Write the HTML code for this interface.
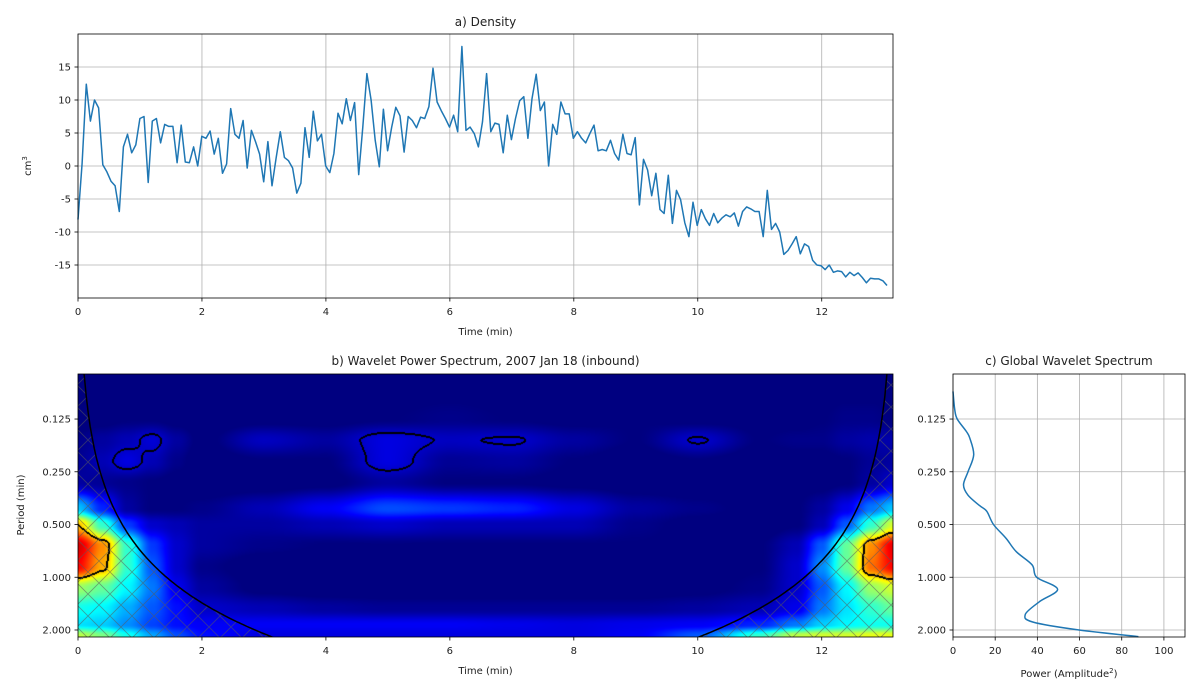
<!DOCTYPE html>
<html><head><meta charset="utf-8">
<style>
html,body{margin:0;padding:0;background:#fff;}
#wrap{position:relative;width:1200px;height:700px;overflow:hidden;font-family:"DejaVu Sans","Liberation Sans",sans-serif;}
svg text{font-family:"DejaVu Sans","Liberation Sans",sans-serif;fill:#222;}
canvas{position:absolute;left:78px;top:374px;}
svg{position:absolute;left:0;top:0;}
</style></head>
<body>
<div id="wrap">
<canvas id="hm" width="815" height="263"></canvas>
<svg id="svg" width="1200" height="700"></svg>
</div>
<script>
// ---- data: density series ----
const densityValues = [-8.1,0.4,12.4,6.8,10,8.8,0.2,-0.9,-2.3,-3,-6.9,2.9,4.8,2,3.2,7.2,7.5,-2.5,6.8,7.2,3.5,6.3,6,6,0.5,6.2,0.6,0.5,2.9,0,4.5,4.2,5.3,1.8,4.2,-1.1,0.3,8.7,4.8,4.2,6.9,-0.3,5.4,3.7,1.8,-2.4,3.7,-3,1.2,5.2,1.3,0.8,-0.3,-4.1,-2.6,5.8,1.3,8.3,3.8,4.8,0,-1,1.9,8,6.4,10.2,6.9,9.6,-1.3,5.9,14,10,3.9,-0.1,8.6,2.3,5.9,8.9,7.6,2.1,7.5,6.9,5.8,7.4,7.2,9,14.8,9.7,8.4,7.2,5.9,7.7,5.2,18.1,5.4,5.9,4.9,2.9,6.7,14,
5.2,6.5,6.3,2,7.7,4,7.2,9.9,10.5,4.2,10.2,13.9,8.4,9.7,0,6.3,4.8,9.7,7.9,7.9,4.2,5.2,4.2,3.5,4.9,6.2,2.3,2.5,2.3,3.9,1.9,0.9,4.8,1.9,1.7,4.3,-5.9,1,-0.6,-4.5,-1.1,-6.6,-7.2,-1.4,-8.7,-3.7,-5.1,-8.6,-10.7,-5.5,-9,-6.6,-8,-9,-7.2,-8.6,-7.9,-7.4,-7.7,-7.1,-9.1,-6.9,-6.2,-6.5,-6.9,-6.9,-10.7,-3.7,-9.6,-8.7,-10,-13.4,-12.8,-11.8,-10.7,-13.3,-11.8,-12.2,-14.3,-15,-15.1,-15.7,-15,-16.1,-15.9,-16,-16.8,-16.1,-16.6,-16.2,-16.9,-17.7,-17,-17.1,-17.1,-17.4,-18.1];
const sampleInterval = 0.0666; // minutes
const densityYTicks = [-15,-10,-5,0,5,10,15];
const timeTicks = [0,2,4,6,8,10,12];
// ---- data: wavelet power grid (rows: log2 period, cols: time in minutes) ----
const gridTimes = [0,0.4,0.8,1.2,1.6,2,3,4,5,6,7,8,9,10,11,11.6,12,12.4,12.8,13.15];
const gridLog2Periods = [-4,-3,-2.6,-2.2,-1.8,-1.3,-1,-0.6,-0.2,0.2,0.6,0.9,1.1,1.25];
const powerGrid = [
[0.02,0.02,0.02,0.02,0.02,0.02,0.02,0.02,0.02,0.02,0.02,0.02,0.02,0.02,0.02,0.02,0.02,0.02,0.02,0.02],
[0.03,0.04,0.05,0.05,0.04,0.03,0.04,0.04,0.05,0.06,0.05,0.04,0.05,0.04,0.04,0.04,0.05,0.06,0.06,0.05],
[0.06,0.08,0.10,0.13,0.08,0.04,0.11,0.08,0.14,0.11,0.12,0.08,0.05,0.12,0.05,0.06,0.06,0.08,0.09,0.09],
[0.07,0.10,0.14,0.10,0.06,0.03,0.05,0.05,0.14,0.07,0.08,0.05,0.03,0.05,0.03,0.04,0.04,0.05,0.07,0.08],
[0.08,0.07,0.06,0.05,0.04,0.03,0.03,0.04,0.08,0.05,0.05,0.04,0.03,0.03,0.03,0.04,0.04,0.05,0.08,0.12],
[0.35,0.20,0.08,0.05,0.05,0.06,0.10,0.16,0.24,0.22,0.20,0.14,0.08,0.06,0.04,0.05,0.08,0.15,0.28,0.35],
[0.70,0.45,0.22,0.12,0.10,0.08,0.08,0.10,0.12,0.10,0.10,0.10,0.06,0.04,0.03,0.05,0.10,0.25,0.45,0.60],
[0.92,0.75,0.45,0.22,0.12,0.08,0.06,0.05,0.05,0.05,0.05,0.05,0.05,0.04,0.05,0.10,0.25,0.50,0.75,0.90],
[0.88,0.72,0.45,0.25,0.12,0.06,0.03,0.02,0.02,0.02,0.02,0.02,0.02,0.02,0.05,0.12,0.30,0.50,0.78,0.88],
[0.55,0.50,0.40,0.28,0.15,0.08,0.04,0.03,0.03,0.03,0.03,0.03,0.03,0.04,0.06,0.12,0.25,0.40,0.55,0.60],
[0.42,0.40,0.33,0.25,0.18,0.12,0.10,0.08,0.07,0.07,0.07,0.07,0.07,0.08,0.10,0.15,0.28,0.38,0.45,0.50],
[0.38,0.36,0.30,0.23,0.18,0.16,0.16,0.16,0.16,0.16,0.15,0.14,0.15,0.16,0.20,0.28,0.36,0.40,0.42,0.42],
[0.58,0.52,0.42,0.32,0.24,0.18,0.14,0.14,0.14,0.14,0.14,0.14,0.16,0.25,0.45,0.58,0.60,0.60,0.62,0.62],
[0.65,0.62,0.52,0.40,0.30,0.22,0.15,0.14,0.14,0.14,0.15,0.16,0.20,0.35,0.60,0.72,0.75,0.75,0.75,0.75]];
const colorMin = 0.05;
const periodTicks = [0.125,0.25,0.5,1,2];
const periodTickLabels = ["0.125","0.250","0.500","1.000","2.000"];
const coiFactor = 0.7;
const sigThresholdShort = 0.115, sigThresholdLong = 0.7;
// ---- data: global wavelet spectrum ----
const globalPeriods = [0.087,0.11,0.125,0.147,0.16,0.2,0.25,0.297,0.34,0.39,0.42,0.5,0.6,0.715,0.85,1,1.17,1.38,1.63,1.8,2,2.18];
const globalPower = [0,0.8,2,6.3,7.9,9.8,7.1,5,7.1,12.6,16,19.2,25.2,30,37.5,39.7,49.6,40.9,34.3,37.8,59.8,87.9];
const powerTicks = [0,20,40,60,80,100];

const NS='http://www.w3.org/2000/svg';
const svg=document.getElementById('svg');
function el(tag,attrs,parent){const e=document.createElementNS(NS,tag);for(const k in attrs)e.setAttribute(k,attrs[k]);(parent||svg).appendChild(e);return e;}
function txt(x,y,s,opt,parent){const t=el('text',Object.assign({x:x,y:y,'font-size':10,'text-anchor':'middle'},opt||{}),parent);t.textContent=s;return t;}

const T_MAX=13.15;
// ---- panel a ----
const A={l:78,r:893,t:34,b:298,ymin:-20,ymax:20};
const ax=t=>A.l+(t/T_MAX)*(A.r-A.l);
const ay=v=>A.b-(v-A.ymin)/(A.ymax-A.ymin)*(A.b-A.t);
const gA=el('g',{});


timeTicks.forEach(t=>{
  const g=el('line',{x1:ax(t),x2:ax(t),y1:A.t,y2:A.b,stroke:'#b0b0b0','stroke-width':0.8},gA);
  
  el('line',{x1:ax(t),x2:ax(t),y1:A.b,y2:A.b+3.5,stroke:'#000','stroke-width':0.8},gA);
  const l=txt(ax(t),A.b+17,String(t),{},gA);
  
});
densityYTicks.forEach(v=>{
  const g=el('line',{x1:A.l,x2:A.r,y1:ay(v),y2:ay(v),stroke:'#b0b0b0','stroke-width':0.8},gA);
  
  el('line',{x1:A.l-3.5,x2:A.l,y1:ay(v),y2:ay(v),stroke:'#000','stroke-width':0.8},gA);
  const l=txt(A.l-7,ay(v)+3.5,String(v),{'text-anchor':'end'},gA);
  
});
const pts=densityValues.map((v,i)=>ax(i*sampleInterval).toFixed(1)+','+ay(v).toFixed(1)).join(' ');
const dl=el('polyline',{points:pts,fill:'none',stroke:'#1f77b4','stroke-width':1.5,'stroke-linejoin':'round'},gA);

el('rect',{x:A.l,y:A.t,width:A.r-A.l,height:A.b-A.t,fill:'none',stroke:'#000','stroke-width':0.8},gA);
let t1=txt((A.l+A.r)/2,A.t-8,'a) Density',{'font-size':12},gA);

let t2=txt((A.l+A.r)/2,A.b+37,'Time (min)',{},gA);

let t3=el('text',{x:0,y:0,'font-size':10,'text-anchor':'middle',transform:'translate(31,166) rotate(-90)'},gA);
t3.innerHTML='cm<tspan baseline-shift="super" font-size="7">3</tspan>';


// ---- panel b ----
const B={l:78,r:893,t:374,b:637};
const LP_TOP=Math.log2(0.125)-45/52.7, LP_BOT=Math.log2(2)+7/52.7;
const bx=t=>B.l+(t/T_MAX)*(B.r-B.l);
const by=p=>B.t+(Math.log2(p)-LP_TOP)/(LP_BOT-LP_TOP)*(B.b-B.t);
function jet(v){v=Math.max(0,Math.min(1,(v-colorMin)/(1-colorMin)));
  const r=Math.max(0,Math.min(1,1.5-Math.abs(4*v-3)));
  const g=Math.max(0,Math.min(1,1.5-Math.abs(4*v-2)));
  const b=Math.max(0,Math.min(1,1.5-Math.abs(4*v-1)));
  return [r*255,g*255,b*255];}
function interp(arr,x){
  if(x<=arr[0])return [0,0];if(x>=arr[arr.length-1])return [arr.length-2,1];
  for(let i=0;i<arr.length-1;i++){if(x<=arr[i+1])return [i,(x-arr[i])/(arr[i+1]-arr[i])];}}
function smooth(f){return f*f*(3-2*f);}
const cv=document.getElementById('hm');const ctx=cv.getContext('2d');
const W=cv.width,H=cv.height;
const field=new Float32Array(W*H);
for(let py=0;py<H;py++){
  const lp=LP_TOP+(py+0.5)/H*(LP_BOT-LP_TOP);
  let [ri,rf]=interp(gridLog2Periods,lp);rf=smooth(rf);
  for(let px=0;px<W;px++){
    const t=(px+0.5)/W*T_MAX;
    let [ci,cf]=interp(gridTimes,t);cf=smooth(cf);
    field[py*W+px]=(powerGrid[ri][ci]*(1-cf)+powerGrid[ri][ci+1]*cf)*(1-rf)+(powerGrid[ri+1][ci]*(1-cf)+powerGrid[ri+1][ci+1]*cf)*rf;
  }
}
const img=ctx.createImageData(W,H);
for(let py=0;py<H;py++){
  const lp=LP_TOP+(py+0.5)/H*(LP_BOT-LP_TOP);
  const thr=lp<-1.95?sigThresholdShort:sigThresholdLong;
  for(let px=0;px<W;px++){
    const v=field[py*W+px];let c=jet(v);
    const s=v>=thr;
    let edge=false;
    if(px+1<W&&((field[py*W+px+1]>=thr)!==s))edge=true;
    if(py+1<H&&((field[(py+1)*W+px]>=thr)!==s))edge=true;
    if(px-1>=0&&((field[py*W+px-1]>=thr)!==s))edge=true;
    if(py-1>=0&&((field[(py-1)*W+px]>=thr)!==s))edge=true;
    if(edge)c=[0,0,0];
    const k=(py*W+px)*4;
    img.data[k]=c[0];img.data[k+1]=c[1];img.data[k+2]=c[2];img.data[k+3]=255;}
}
ctx.putImageData(img,0,0);
const gB=el('g',{});

const defs=el('defs',{});
const pat=el('pattern',{id:'hatch',width:22,height:22,patternUnits:'userSpaceOnUse'},defs);
el('path',{d:'M0,0L22,22M22,0L0,22',stroke:'rgba(90,90,90,0.55)','stroke-width':0.9},pat);
const cp=el('clipPath',{id:'clipB'},defs);
el('rect',{x:B.l,y:B.t,width:B.r-B.l,height:B.b-B.t},cp);
let coiPts=[];
for(let i=0;i<=400;i++){const t=i/400*T_MAX;const p=Math.max(coiFactor*Math.min(t,T_MAX-t),0.01);
  coiPts.push([bx(t),Math.max(B.t-10,Math.min(B.b+10,by(p)))]);}
const coiD='M'+coiPts.map(p=>p[0].toFixed(1)+','+p[1].toFixed(1)).join('L');
const hz=el('path',{d:coiD+'L'+B.r+','+(B.b+10)+'L'+B.l+','+(B.b+10)+'Z',fill:'url(#hatch)','clip-path':'url(#clipB)'},gB);

const cl=el('path',{d:coiD,fill:'none',stroke:'#000','stroke-width':1.5,'clip-path':'url(#clipB)'},gB);

timeTicks.forEach(t=>{
  el('line',{x1:bx(t),x2:bx(t),y1:B.b,y2:B.b+3.5,stroke:'#000','stroke-width':0.8},gB);
  const l=txt(bx(t),B.b+17,String(t),{},gB);
  
});
periodTicks.forEach((p,i)=>{
  el('line',{x1:B.l-3.5,x2:B.l,y1:by(p),y2:by(p),stroke:'#000','stroke-width':0.8},gB);
  const l=txt(B.l-7,by(p)+3.5,periodTickLabels[i],{'text-anchor':'end'},gB);
  
});
el('rect',{x:B.l,y:B.t,width:B.r-B.l,height:B.b-B.t,fill:'none',stroke:'#000','stroke-width':0.8},gB);
let b1=txt((B.l+B.r)/2,B.t-9,'b) Wavelet Power Spectrum, 2007 Jan 18 (inbound)',{'font-size':12},gB);

let b2=txt((B.l+B.r)/2,B.b+37,'Time (min)',{},gB);

let b3=txt(0,0,'Period (min)',{transform:'translate(24,505) rotate(-90)'},gB);


// ---- panel c ----
const C={l:953,r:1185,t:374,b:637,xmax:110};
const cx=v=>C.l+v/C.xmax*(C.r-C.l);
const gC=el('g',{});

powerTicks.forEach(v=>{
  const g=el('line',{x1:cx(v),x2:cx(v),y1:C.t,y2:C.b,stroke:'#b0b0b0','stroke-width':0.8},gC);
  
  el('line',{x1:cx(v),x2:cx(v),y1:C.b,y2:C.b+3.5,stroke:'#000','stroke-width':0.8},gC);
  const l=txt(cx(v),C.b+17,String(v),{},gC);
  
});
periodTicks.forEach((p,i)=>{
  const g=el('line',{x1:C.l,x2:C.r,y1:by(p),y2:by(p),stroke:'#b0b0b0','stroke-width':0.8},gC);
  
  el('line',{x1:C.l-3.5,x2:C.l,y1:by(p),y2:by(p),stroke:'#000','stroke-width':0.8},gC);
  const l=txt(C.l-7,by(p)+3.5,periodTickLabels[i],{'text-anchor':'end'},gC);
  
});
const gp=globalPeriods.map((p,i)=>[cx(globalPower[i]),by(p)]);
let gd='M'+gp[0][0]+','+gp[0][1];
for(let i=0;i<gp.length-1;i++){const p0=gp[Math.max(0,i-1)],p1=gp[i],p2=gp[i+1],p3=gp[Math.min(gp.length-1,i+2)];
  gd+='C'+(p1[0]+(p2[0]-p0[0])/6).toFixed(1)+','+(p1[1]+(p2[1]-p0[1])/6).toFixed(1)+' '+(p2[0]-(p3[0]-p1[0])/6).toFixed(1)+','+(p2[1]-(p3[1]-p1[1])/6).toFixed(1)+' '+p2[0].toFixed(1)+','+p2[1].toFixed(1);}
const gl=el('path',{d:gd,fill:'none',stroke:'#1f77b4','stroke-width':1.5},gC);

el('rect',{x:C.l,y:C.t,width:C.r-C.l,height:C.b-C.t,fill:'none',stroke:'#000','stroke-width':0.8},gC);
let c1=txt((C.l+C.r)/2,C.t-9,'c) Global Wavelet Spectrum',{'font-size':12},gC);

let c2=el('text',{x:(C.l+C.r)/2,y:C.b+40,'font-size':10,'text-anchor':'middle'},gC);
c2.innerHTML='Power (Amplitude<tspan baseline-shift="super" font-size="7">2</tspan>)';

</script>
</body></html>
